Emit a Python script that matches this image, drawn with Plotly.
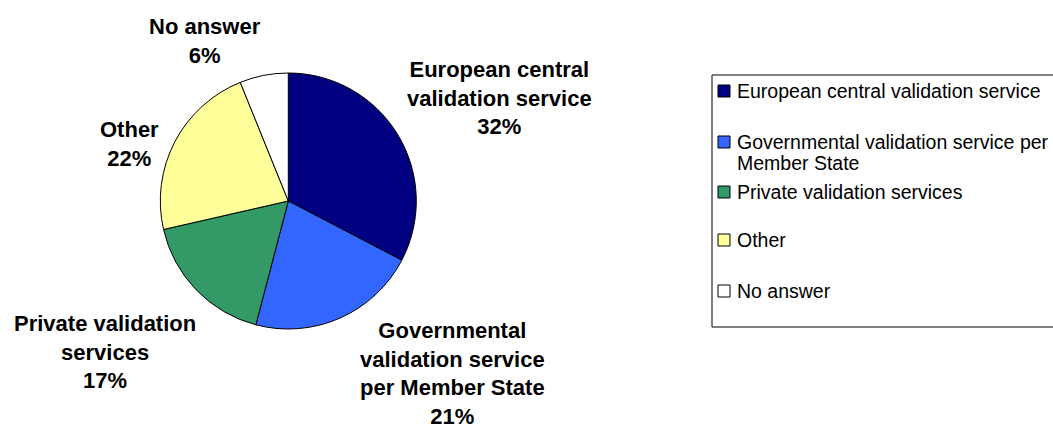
import plotly.graph_objects as go

# Survey answers: preferred model for the validation service
categories = [
    "European central validation service",
    "Governmental validation service per Member State",
    "Private validation services",
    "Other",
    "No answer",
]
shares = [32, 21, 17, 22, 6]  # percent of respondents
colors = ["#000080", "#3366FF", "#339966", "#FFFF99", "#FFFFFF"]

# Wrapped text used for the slice labels and for the legend entries
slice_label_text = [
    "European central<br>validation service",
    "Governmental<br>validation service<br>per Member State",
    "Private validation<br>services",
    "Other",
    "No answer",
]
legend_label_lines = [
    ["European central validation service"],
    ["Governmental validation service per", "Member State"],
    ["Private validation services"],
    ["Other"],
    ["No answer"],
]

W, H = 1053, 432
FONT = "Arial, 'Liberation Sans', sans-serif"


def px(x):
    return x / W


def py(y):
    return 1 - y / H


fig = go.Figure()

# Pie centred at (288, 201) with a 128 px radius
cx, cy, r = 288.3, 201.0, 128.0
fig.add_trace(
    go.Pie(
        labels=categories,
        values=shares,
        sort=False,
        direction="clockwise",
        rotation=0,
        marker=dict(colors=colors, line=dict(color="#000000", width=1)),
        textinfo="none",
        hoverinfo="label+value",
        showlegend=False,
        domain=dict(x=[px(cx - r), px(cx + r)], y=[py(cy + r), py(cy - r)]),
    )
)

# Slice labels placed outside the pie (block centres in pixels)
label_centres = [(499, 98), (452, 373), (105, 352), (129, 144), (204.5, 41.5)]
annotations = []
for text, val, (lx, ly) in zip(slice_label_text, shares, label_centres):
    annotations.append(
        dict(
            x=px(lx), y=py(ly), xref="paper", yref="paper",
            text=f"<b>{text}<br>{val}%</b>",
            showarrow=False, xanchor="center", yanchor="middle", align="center",
            font=dict(family=FONT, size=22, color="#000000"),
        )
    )

# Legend box with swatches
shapes = [
    dict(type="rect", xref="paper", yref="paper",
         x0=px(712), x1=px(1062), y0=py(327), y1=py(75),
         line=dict(color="#000000", width=1), fillcolor="rgba(0,0,0,0)", layer="above")
]
legend_rows = [91, 142, 192, 240, 291]  # y of the first text line of each entry
legend_line_gap = 21
for lines, col, ry in zip(legend_label_lines, colors, legend_rows):
    shapes.append(
        dict(type="rect", xref="paper", yref="paper",
             x0=px(718), x1=px(730), y0=py(ry + 6), y1=py(ry - 6),
             line=dict(color="#000000", width=1), fillcolor=col, layer="above")
    )
    for i, line in enumerate(lines):
        annotations.append(
            dict(
                x=px(735), y=py(ry + i * legend_line_gap), xref="paper", yref="paper",
                text=line, showarrow=False, xanchor="left", yanchor="middle", align="left",
                font=dict(family=FONT, size=19.5, color="#000000"),
            )
        )

fig.update_layout(
    width=W, height=H,
    margin=dict(l=0, r=0, t=0, b=0),
    paper_bgcolor="#FFFFFF",
    plot_bgcolor="#FFFFFF",
    showlegend=False,
    annotations=annotations,
    shapes=shapes,
)

fig.write_html("out.html")
